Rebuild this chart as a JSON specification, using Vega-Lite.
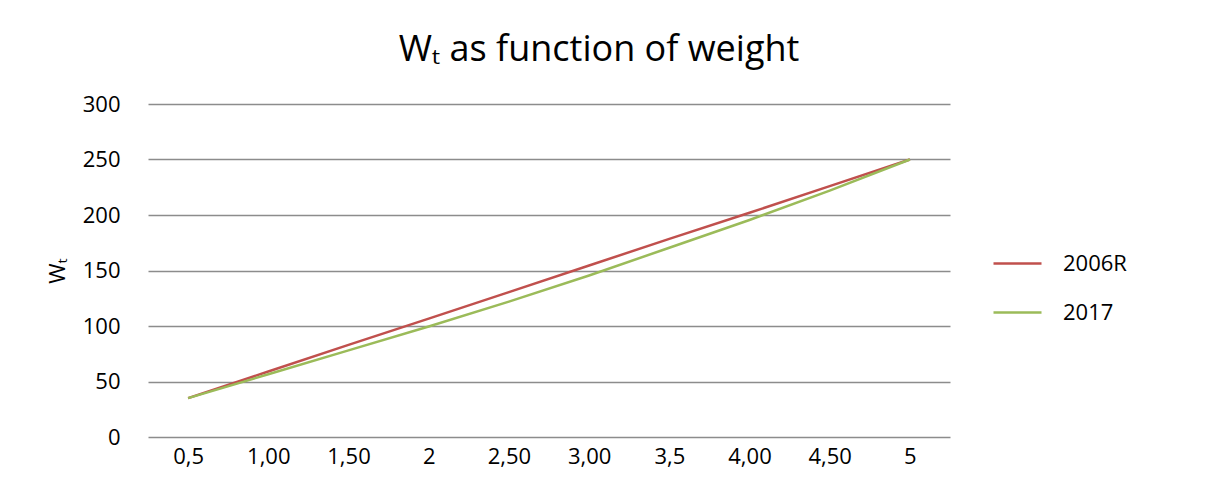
{
  "$schema": "https://vega.github.io/schema/vega-lite/v6.json",
  "autosize": {"type": "none"},
  "width": 802,
  "height": 333,
  "padding": {"left": 148, "top": 104, "right": 266, "bottom": 62},
  "background": "white",
  "title": {
    "text": "Wₜ as function of weight",
    "font": "Open Sans",
    "fontSize": 36,
    "fontWeight": "normal",
    "color": "#000000",
    "anchor": "middle",
    "frame": "group",
    "dx": 50,
    "offset": 24
  },
  "data": {
    "values": [
      {"weight": "0,5", "series": "2006R", "Wt": 35},
      {"weight": "1,00", "series": "2006R", "Wt": 59},
      {"weight": "1,50", "series": "2006R", "Wt": 83},
      {"weight": "2", "series": "2006R", "Wt": 106.7},
      {"weight": "2,50", "series": "2006R", "Wt": 130.5},
      {"weight": "3,00", "series": "2006R", "Wt": 154.5},
      {"weight": "3,5", "series": "2006R", "Wt": 178.5},
      {"weight": "4,00", "series": "2006R", "Wt": 202},
      {"weight": "4,50", "series": "2006R", "Wt": 226},
      {"weight": "5", "series": "2006R", "Wt": 250},
      {"weight": "0,5", "series": "2017", "Wt": 35},
      {"weight": "1,00", "series": "2017", "Wt": 56.5},
      {"weight": "1,50", "series": "2017", "Wt": 78},
      {"weight": "2", "series": "2017", "Wt": 99.5},
      {"weight": "2,50", "series": "2017", "Wt": 122},
      {"weight": "3,00", "series": "2017", "Wt": 145.5},
      {"weight": "3,5", "series": "2017", "Wt": 170.5},
      {"weight": "4,00", "series": "2017", "Wt": 195.5},
      {"weight": "4,50", "series": "2017", "Wt": 222},
      {"weight": "5", "series": "2017", "Wt": 250}
    ]
  },
  "mark": {"type": "line", "strokeWidth": 2.5},
  "encoding": {
    "x": {
      "field": "weight",
      "type": "ordinal",
      "sort": null,
      "scale": {"type": "point", "padding": 0.5},
      "axis": {
        "title": null,
        "labelAngle": 0,
        "domain": false,
        "ticks": false,
        "grid": false,
        "labelPadding": 9,
        "labelFont": "Open Sans",
        "labelFontSize": 22,
        "labelColor": "#000000"
      }
    },
    "y": {
      "field": "Wt",
      "type": "quantitative",
      "scale": {"domain": [0, 300]},
      "axis": {
        "title": "Wₜ",
        "titleFont": "Open Sans",
        "titleFontSize": 22,
        "titleFontWeight": "normal",
        "titleColor": "#000000",
        "titlePadding": 13,
        "values": [0, 50, 100, 150, 200, 250, 300],
        "domain": false,
        "ticks": false,
        "grid": true,
        "gridColor": "#8c8c8c",
        "gridWidth": 1.5,
        "labelPadding": 28,
        "labelFont": "Open Sans",
        "labelFontSize": 22,
        "labelColor": "#000000"
      }
    },
    "color": {
      "field": "series",
      "type": "nominal",
      "scale": {"domain": ["2006R", "2017"], "range": ["#C0504D", "#9BBB59"]},
      "legend": {
        "title": null,
        "orient": "none",
        "legendX": 844,
        "legendY": 134,
        "symbolType": "stroke",
        "symbolSize": 2304,
        "symbolStrokeWidth": 2.5,
        "labelFont": "Open Sans",
        "labelFontSize": 22,
        "labelColor": "#000000",
        "labelOffset": 20,
        "rowPadding": 12
      }
    }
  },
  "config": {"view": {"stroke": null}}
}
